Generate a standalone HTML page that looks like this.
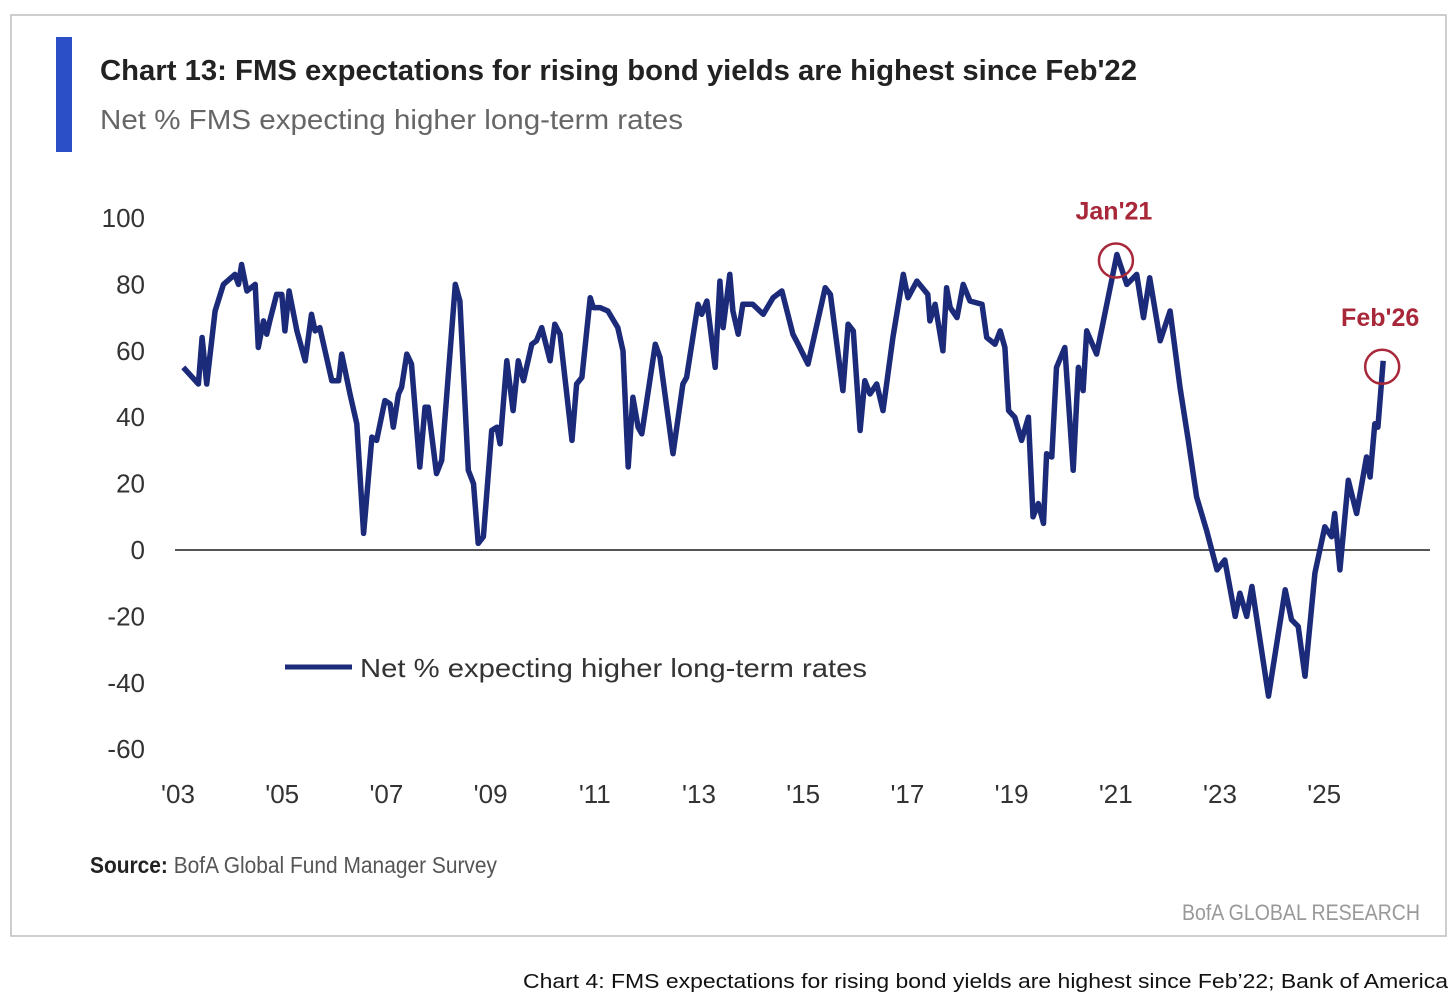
<!DOCTYPE html>
<html><head><meta charset="utf-8"><style>
html,body{margin:0;padding:0;background:#fff;}
svg{display:block;font-family:"Liberation Sans",sans-serif;}
</style></head><body>
<svg id="chart" width="1456" height="1006" viewBox="0 0 1456 1006">
<rect x="11" y="15" width="1435" height="921" fill="#fff" stroke="#bdbdbd" stroke-width="1.5"/>
<rect x="56" y="37" width="16" height="115" fill="#2b4fc7"/>
<text x="100" y="80" font-size="29" font-weight="bold" fill="#222" textLength="1037" lengthAdjust="spacingAndGlyphs">Chart 13: FMS expectations for rising bond yields are highest since Feb'22</text>
<text x="100" y="129" font-size="28" fill="#666" textLength="583" lengthAdjust="spacingAndGlyphs">Net % FMS expecting higher long-term rates</text>
<g id="yaxis"></g>
<g id="xaxis"></g>
<line id="zero" stroke="#555" stroke-width="2"/>
<path id="series" fill="none" stroke="#1c2a7a" stroke-width="5.5" stroke-linejoin="round"/>
<g id="annot"></g>
<line x1="285" y1="667" x2="352" y2="667" stroke="#1c2a7a" stroke-width="5"/>
<text x="360" y="677" font-size="26" fill="#333" textLength="507" lengthAdjust="spacingAndGlyphs">Net % expecting higher long-term rates</text>
<text x="90" y="873" font-size="23" fill="#555" textLength="407" lengthAdjust="spacingAndGlyphs"><tspan font-weight="bold" fill="#222">Source:</tspan> BofA Global Fund Manager Survey</text>
<text x="1420" y="920" font-size="22" fill="#999" text-anchor="end" textLength="238" lengthAdjust="spacingAndGlyphs">BofA GLOBAL RESEARCH</text>
<text x="1448" y="988" font-size="20" fill="#111" text-anchor="end" textLength="925" lengthAdjust="spacingAndGlyphs">Chart 4: FMS expectations for rising bond yields are highest since Feb’22; Bank of America</text>
</svg>
<script>
const yTicks=[100,80,60,40,20,0,-20,-40,-60];
const xTickYears=[2003,2005,2007,2009,2011,2013,2015,2017,2019,2021,2023,2025];
const xTickLabels=["'03","'05","'07","'09","'11","'13","'15","'17","'19","'21","'23","'25"];
const dates=[2003.14,2003.43,2003.50,2003.59,2003.75,2003.91,2004.13,2004.20,2004.26,2004.36,2004.52,2004.58,2004.68,2004.74,2004.80,2004.93,2005.03,2005.09,2005.17,2005.32,2005.48,2005.60,2005.67,2005.76,2005.99,2006.12,2006.18,2006.34,2006.47,2006.60,2006.76,2006.85,2007.01,2007.11,2007.17,2007.27,2007.33,2007.43,2007.52,2007.68,2007.78,2007.84,2008.00,2008.10,2008.36,2008.45,2008.61,2008.71,2008.80,2008.90,2009.06,2009.16,2009.22,2009.35,2009.47,2009.57,2009.67,2009.83,2009.92,2010.02,2010.18,2010.27,2010.37,2010.60,2010.69,2010.79,2010.95,2011.01,2011.14,2011.29,2011.48,2011.58,2011.68,2011.77,2011.87,2011.94,2012.20,2012.29,2012.54,2012.73,2012.80,2013.02,2013.09,2013.19,2013.35,2013.44,2013.50,2013.63,2013.69,2013.79,2013.88,2014.07,2014.27,2014.46,2014.63,2014.84,2014.94,2015.13,2015.46,2015.56,2015.80,2015.90,2016.00,2016.13,2016.22,2016.32,2016.45,2016.57,2016.76,2016.96,2017.05,2017.22,2017.43,2017.47,2017.57,2017.72,2017.79,2017.86,2017.99,2018.11,2018.24,2018.47,2018.56,2018.72,2018.82,2018.91,2018.98,2019.10,2019.23,2019.36,2019.45,2019.55,2019.65,2019.71,2019.81,2019.90,2020.06,2020.22,2020.32,2020.41,2020.48,2020.67,2020.80,2021.06,2021.25,2021.44,2021.57,2021.69,2021.89,2022.08,2022.27,2022.43,2022.59,2022.78,2022.98,2023.13,2023.33,2023.42,2023.55,2023.65,2023.97,2024.29,2024.41,2024.54,2024.67,2024.86,2025.05,2025.18,2025.24,2025.34,2025.50,2025.66,2025.85,2025.92,2026.01,2026.07,2026.17];
const values=[55,50,64,50,72,80,83,80,86,78,80,61,69,65,69,77,77,66,78,66,57,71,66,67,51,51,59,47,38,5,34,33,45,44,37,47,49,59,56,25,43,43,23,27,80,75,24,20,2,4,36,37,32,57,42,57,51,62,63,67,57,68,65,33,50,52,76,73,73,72,67,60,25,46,37,35,62,58,29,50,52,74,71,75,55,81,67,83,72,65,74,74,71,76,78,65,62,56,79,77,48,68,66,36,51,47,50,42,64,83,76,81,77,69,74,60,79,73,70,80,75,74,64,62,66,61,42,40,33,40,10,14,8,29,28,55,61,24,55,48,66,59,69,89,80,83,70,82,63,72,49,33,16,6,-6,-3,-20,-13,-20,-11,-44,-12,-21,-23,-38,-7,7,4,11,-6,21,11,28,22,38,37,57];
const annDates=[2021.06,2026.17];
const annLabels=["Jan'21","Feb'26"];

const x0=176, pxPerYear=52.1, yZero=550, pxPerUnit=3.32;
const X=d=>x0+(d-2003)*pxPerYear;
const Y=v=>yZero-v*pxPerUnit;
const NS="http://www.w3.org/2000/svg";
const mk=(tag,attrs,parent)=>{const e=document.createElementNS(NS,tag);for(const k in attrs)e.setAttribute(k,attrs[k]);parent.appendChild(e);return e;};

const ya=document.getElementById('yaxis');
yTicks.forEach(t=>{
  const e=mk('text',{x:145,y:Y(t)+9,'font-size':26,'text-anchor':'end',fill:'#333'},ya);
  e.textContent=t;
  
  
});
const xa=document.getElementById('xaxis');
xTickYears.forEach((yr,i)=>{
  const e=mk('text',{x:X(yr)+2,y:803,'font-size':26,'text-anchor':'middle',fill:'#333'},xa);
  e.textContent=xTickLabels[i];
  
  
});
const z=document.getElementById('zero');
z.setAttribute('x1',175);z.setAttribute('x2',1430);z.setAttribute('y1',Y(0));z.setAttribute('y2',Y(0));

document.getElementById('series').setAttribute('d',dates.map((d,i)=>(i?'L':'M')+X(d).toFixed(1)+' '+Y(values[i]).toFixed(1)).join(' '));

const an=document.getElementById('annot');
annDates.forEach((d,i)=>{
  const idx=dates.indexOf(d);
  const cx=X(d), cy=Y(values[idx]);
  const c=mk('circle',{cx:cx-1,cy:cy+6,r:17,fill:'none',stroke:'#a8283a','stroke-width':2.5},an);
  
  
  const t=mk('text',{x:cx-3,y:cy-35,'font-size':25,'font-weight':'bold','text-anchor':'middle',fill:'#a8283a'},an);
  t.textContent=annLabels[i];
  
  
});
</script>
</body></html>
